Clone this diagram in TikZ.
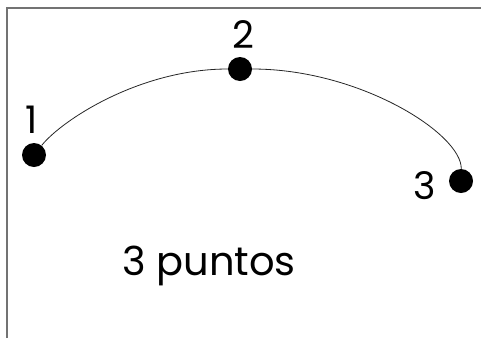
\documentclass[tikz,border=0pt]{standalone}
\usepackage{fontspec}
\setmainfont{Poppins}
\usetikzlibrary{positioning}

\begin{document}
\begin{tikzpicture}[x=1pt, y=-1pt,
    punto/.style={circle, fill=black, inner sep=0pt, minimum size=24pt},
    etiqueta/.style={inner sep=0pt, font=\fontsize{38}{40}\selectfont}]
    \useasboundingbox (0,0) rectangle (481,338);
    % marco
    \draw[black!55, line width=2pt] (7,338) -- (7,8) -- (481,8);

    % puntos
    \node[punto] (p1) at (34,155) {};
    \node[punto] (p2) at (240,69) {};
    \node[punto] (p3) at (461,181) {};

    % etiquetas
    \node[etiqueta] (e1) at (32,120) {1};
    \node[etiqueta] (e2) at (243,35) {2};
    \node[etiqueta] (e3) at (425,186) {3};

    % curva
    \draw[black!85, line width=0.8pt] (p1) .. controls (62,120) and (140,69) .. (p2)
        .. controls (360,69) and (462,134) .. (p3);

    % texto
    \node[etiqueta, anchor=west, font=\fontsize{40}{42}\selectfont] (txt) at (122,266) {3 puntos};
\end{tikzpicture}
\end{document}
